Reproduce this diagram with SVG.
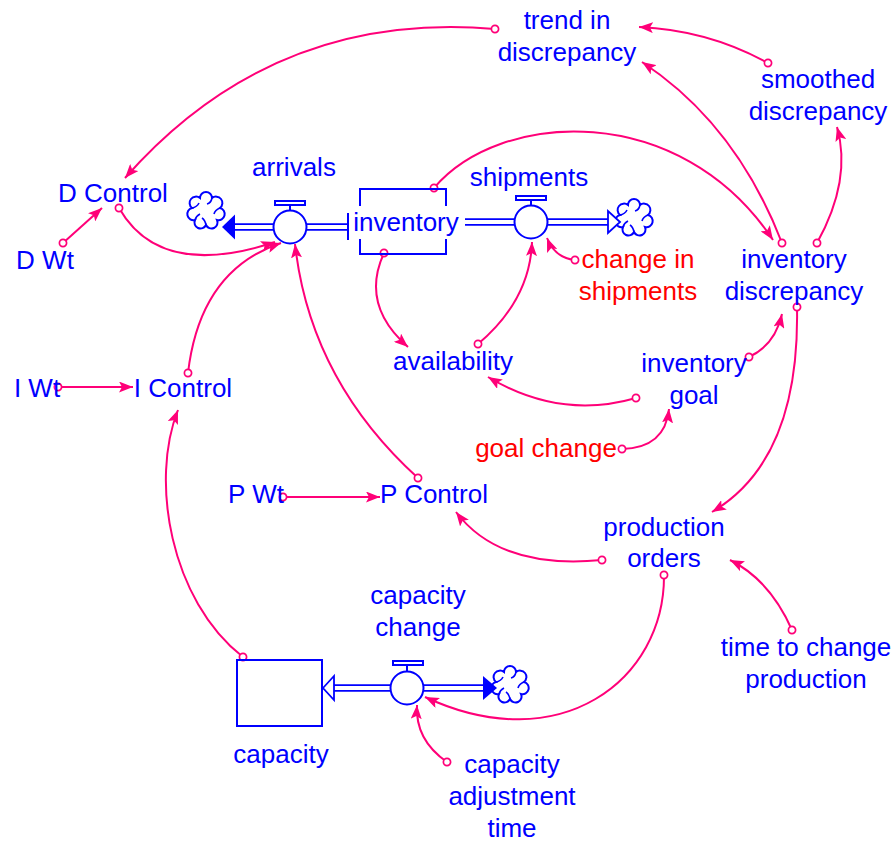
<svg xmlns="http://www.w3.org/2000/svg" xmlns:xlink="http://www.w3.org/1999/xlink" width="896" height="842" viewBox="0 0 896 842">
<style>
text{font-family:"Liberation Sans",Arial,sans-serif;font-size:26px;fill:#0000ff;text-anchor:middle}
text.red{fill:#ff0000}
.lnk{fill:none;stroke:#ff0078;stroke-width:2;marker-start:url(#dot);marker-end:url(#ah)}
.pipeO{stroke:#0000ff;stroke-width:7.5;fill:none}
.pipeI{stroke:#ffffff;stroke-width:4;fill:none}
.blue{fill:none;stroke:#0000ff;stroke-width:2}
.valve{fill:#ffffff;stroke:#0000ff;stroke-width:2}
</style>
<defs>
<marker id="ah" viewBox="0 0 14 11" refX="14" refY="5.5" markerWidth="14" markerHeight="11" markerUnits="userSpaceOnUse" orient="auto"><path d="M0,0 L14,5.5 L0,11 L3,5.5 Z" fill="#ff0078"/></marker>
<marker id="dot" viewBox="0 0 10 10" refX="5" refY="5" markerWidth="10" markerHeight="10" markerUnits="userSpaceOnUse"><circle cx="5" cy="5" r="3.6" fill="#ffffff" stroke="#ff0078" stroke-width="1.7"/></marker>
<g id="cloud">
<path d="M-6,-13 A6,6 0 0 1 6,-13 A6,6 0 0 1 14,-3 A6,6 0 0 1 11,9 A6,6 0 0 1 0,14 A6,6 0 0 1 -11,9 A6,6 0 0 1 -14,-3 A6,6 0 0 1 -6,-13 Z" fill="#ffffff" stroke="#0000ff" stroke-width="2"/>
<path d="M6,-13 Q5,-8 1,-7 M14,-3 Q9,-1 8,3 M0,14 Q-1,9 -4,7 M-14,-3 Q-9,-4 -7,-8 M-11,9 Q-10,5 -6,3" fill="none" stroke="#0000ff" stroke-width="1.6"/>
</g>
</defs>
<g id="connectors">
<path class="lnk" d="M495,29 Q273,10 125,178"/>
<path class="lnk" d="M768,63 Q708,30 639,27"/>
<path class="lnk" d="M782,243 Q736,124 642,62"/>
<path class="lnk" d="M817,243 Q852,180 837,127"/>
<path class="lnk" d="M434,188 C500,110 680,100 773,240"/>
<path class="lnk" d="M63,243 L102,208"/>
<path class="lnk" d="M119,208 Q160,280 275,242"/>
<path class="lnk" d="M58,387 L133,387"/>
<path class="lnk" d="M188,373 Q200,270 281,243"/>
<path class="lnk" d="M243,657 C170,600 150,480 178,410"/>
<path class="lnk" d="M283,497 L380,497"/>
<path class="lnk" d="M418,478 Q310,380 295,244"/>
<path class="lnk" d="M384,253 Q360,305 408,347"/>
<path class="lnk" d="M478,344 Q530,300 532,242"/>
<path class="lnk" d="M575,260 Q555,258 547,238"/>
<path class="lnk" d="M636,398 Q560,420 488,377"/>
<path class="lnk" d="M749,357 Q775,345 782,314"/>
<path class="lnk" d="M622,449 Q665,448 669,409"/>
<path class="lnk" d="M797,307 Q800,460 712,512"/>
<path class="lnk" d="M602,560 Q500,570 456,512"/>
<path class="lnk" d="M664,575 C665,680 560,760 425,697"/>
<path class="lnk" d="M447,762 Q415,740 417,705"/>
<path class="lnk" d="M792,630 Q770,580 730,560"/>
</g>
<g id="arrivals">
<use xlink:href="#cloud" x="206" y="211"/>
<path class="pipeO" d="M235,227 L348,227"/>
<path class="pipeI" d="M233,227 L348,227"/>
<path d="M348,213 L348,240" class="blue" stroke-width="1.8"/>
<path d="M222,227 L235,214.5 L235,239.5 Z" fill="#0000ff"/>
<circle class="valve" cx="290" cy="227" r="16.5"/>
<path class="blue" d="M290,210.5 L290,204"/>
<rect x="275" y="201" width="30" height="4" class="valve" stroke-width="1.8"/>
<text x="294" y="176">arrivals</text>
</g>
<g id="inventory">
<rect x="360" y="189" width="86" height="65" class="blue"/>
</g>
<g id="shipments">
<use xlink:href="#cloud" x="634" y="218"/>
<path class="pipeO" d="M446,222 L609,222"/>
<path class="pipeI" d="M446,222 L610,222"/>
<path d="M620,222 L608,211 L608,233 Z" fill="#ffffff" stroke="#0000ff" stroke-width="1.8"/>
<circle class="valve" cx="531" cy="222" r="16.5"/>
<path class="blue" d="M531,205.5 L531,199"/>
<rect x="516" y="196" width="30" height="4" class="valve" stroke-width="1.8"/>
<text x="529" y="186">shipments</text>
</g>
<g id="inventory-label">
<rect x="350" y="206" width="115" height="33" fill="#ffffff"/>
<text x="406" y="231">inventory</text>
</g>
<g id="capacity">
<rect x="237" y="660" width="85" height="66" class="blue"/>
<text x="281" y="763">capacity</text>
</g>
<g id="capacity-change">
<use xlink:href="#cloud" x="510" y="685"/>
<path class="pipeO" d="M332,688 L484,688"/>
<path class="pipeI" d="M331,688 L484,688"/>
<path d="M323,688 L334,676 L334,700 Z" fill="#ffffff" stroke="#0000ff" stroke-width="1.8"/>
<path d="M497,688 L483,676 L483,700 Z" fill="#0000ff"/>
<circle class="valve" cx="407" cy="688" r="16.5"/>
<path class="blue" d="M407,671.5 L407,665"/>
<rect x="393" y="661" width="30" height="4" class="valve" stroke-width="1.8"/>
<text x="418" y="604">capacity</text>
<text x="418" y="636">change</text>
</g>
<g id="trend-in-discrepancy"><text x="567" y="29">trend in</text><text x="567" y="61">discrepancy</text></g>
<g id="smoothed-discrepancy"><text x="818" y="88">smoothed</text><text x="818" y="120">discrepancy</text></g>
<g id="D-Control"><text x="113" y="202">D Control</text></g>
<g id="D-Wt"><text x="45" y="269">D Wt</text></g>
<g id="change-in-shipments"><text class="red" x="638" y="268">change in</text><text class="red" x="638" y="300">shipments</text></g>
<g id="inventory-discrepancy"><text x="794" y="268">inventory</text><text x="794" y="300">discrepancy</text></g>
<g id="availability"><text x="453" y="370">availability</text></g>
<g id="inventory-goal"><text x="694" y="372">inventory</text><text x="694" y="404">goal</text></g>
<g id="goal-change"><text class="red" x="546" y="457">goal change</text></g>
<g id="I-Wt"><text x="37" y="397">I Wt</text></g>
<g id="I-Control"><text x="183" y="397">I Control</text></g>
<g id="P-Wt"><text x="256" y="503">P Wt</text></g>
<g id="P-Control"><text x="434" y="503">P Control</text></g>
<g id="production-orders"><text x="664" y="536">production</text><text x="664" y="567">orders</text></g>
<g id="time-to-change-production"><text x="806" y="656">time to change</text><text x="806" y="688">production</text></g>
<g id="capacity-adjustment-time"><text x="512" y="773">capacity</text><text x="512" y="805">adjustment</text><text x="512" y="837">time</text></g>
</svg>
